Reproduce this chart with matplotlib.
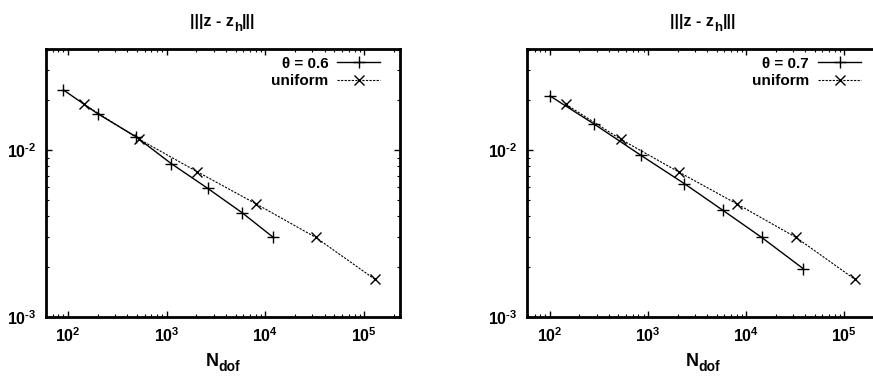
import numpy as np
import matplotlib
matplotlib.use("Agg")
import matplotlib.pyplot as plt
from matplotlib.ticker import LogLocator, NullFormatter
from matplotlib.transforms import IdentityTransform

plt.rcParams['font.family'] = ['Liberation Sans', 'DejaVu Sans']
plt.rcParams['font.weight'] = 'bold'
plt.rcParams['mathtext.fontset'] = 'custom'
plt.rcParams['mathtext.rm'] = 'Liberation Sans:bold'
plt.rcParams['mathtext.bf'] = 'Liberation Sans:bold'
plt.rcParams['mathtext.it'] = 'Liberation Sans:bold'
plt.rcParams['mathtext.default'] = 'bf'

# data
ndof_06 = [90, 200, 490, 1110, 2600, 5850, 12000]
err_06 = [0.0229, 0.0165, 0.0120, 0.0083, 0.0059, 0.0042, 0.0030]

ndof_07 = [100, 283, 847, 2340, 5760, 14400, 38200]
err_07 = [0.0211, 0.0143, 0.0093, 0.0063, 0.00437, 0.0030, 0.00195]

ndof_unif = [145, 528, 2050, 8100, 32300, 129000]
err_unif = [0.0188, 0.0116, 0.0074, 0.00475, 0.0030, 0.00168]

x_ticks = [1e2, 1e3, 1e4, 1e5]
x_labels = [r'$10^{2}$', r'$10^{3}$', r'$10^{4}$', r'$10^{5}$']
y_ticks = [1e-3, 1e-2]
y_labels = ['$10^{\u2010' + '3}$', '$10^{\u2010' + '2}$']

W, H = 873, 376
fig = plt.figure(figsize=(W / 100, H / 100), dpi=100)
renderer = fig.canvas.get_renderer()


def sub_text(ax, y_px, parts):
    # gnuplot-like enhanced text: pieces with own size and baseline shift,
    # centred on the axes; y_px is the baseline in pixels from the bottom
    texts = []
    total = 0
    for s, size, dy in parts:
        t = fig.text(0, 0, s, fontsize=size, fontweight='bold', va='baseline', ha='left')
        w = t.get_window_extent(renderer).width
        texts.append((t, w, dy))
        total += w
    bb = ax.get_position()
    x = (bb.x0 + bb.x1) / 2 * W - total / 2
    for t, w, dy in texts:
        t.set_transform(IdentityTransform())
        t.set_position((x, y_px + dy))
        x += w


panels = [
    (46, 400, 10 ** 1.777, ndof_06, err_06, 'θ = 0.6', 0.944),
    (527.3, 879, 10 ** 1.769, ndof_07, err_07, 'θ = 0.7', 0.949),
]

for left, right, xmin, nd, er, lab, lx in panels:
    ax = fig.add_axes([left / W, 1 - 317 / H, (right - left) / W, (317 - 49) / H])
    ax.set_xscale('log')
    ax.set_yscale('log')
    ax.plot(nd, er, color='black', lw=1.0, marker='+', ms=8, mew=1.0, label=lab)
    ax.plot(ndof_unif, err_unif, color='black', lw=0.8, ls=(0, (2, 1.2)),
            marker='x', ms=7, mew=1.0, label='uniform')
    ax.set_xlim(xmin, xmin * 10 ** 3.587)
    ax.set_ylim(1e-3, 0.0403)
    ax.set_xticks(x_ticks)
    ax.set_xticklabels(x_labels)
    ax.set_yticks(y_ticks)
    ax.set_yticklabels(y_labels)
    ax.xaxis.set_minor_locator(LogLocator(base=10, subs=np.arange(2, 10), numticks=20))
    ax.yaxis.set_minor_locator(LogLocator(base=10, subs=np.arange(2, 10), numticks=20))
    ax.xaxis.set_minor_formatter(NullFormatter())
    ax.yaxis.set_minor_formatter(NullFormatter())
    ax.tick_params(which='both', direction='in', top=True, right=True, labelsize=11.5)
    ax.tick_params(which='major', length=4, width=1.0, pad=7)
    ax.tick_params(which='minor', length=2, width=0.8)
    for sp in ax.spines.values():
        sp.set_linewidth(2.0)
    ax.legend(loc='upper right', bbox_to_anchor=(lx, 0.972), frameon=False,
              markerfirst=False, numpoints=1, fontsize=11, handlelength=2.8,
              handletextpad=0.6, labelspacing=0.22, borderaxespad=0.0, borderpad=0.0)

    # title |||z - z_h||| and x label N_dof
    sub_text(ax, H - 26, [('|||z - z', 11.5, 0), ('h', 9.5, -5), ('|||', 11.5, 0)])
    sub_text(ax, H - 366, [('N', 13, 0), ('dof', 10, -5)])

fig.savefig('out.png', dpi=100)
